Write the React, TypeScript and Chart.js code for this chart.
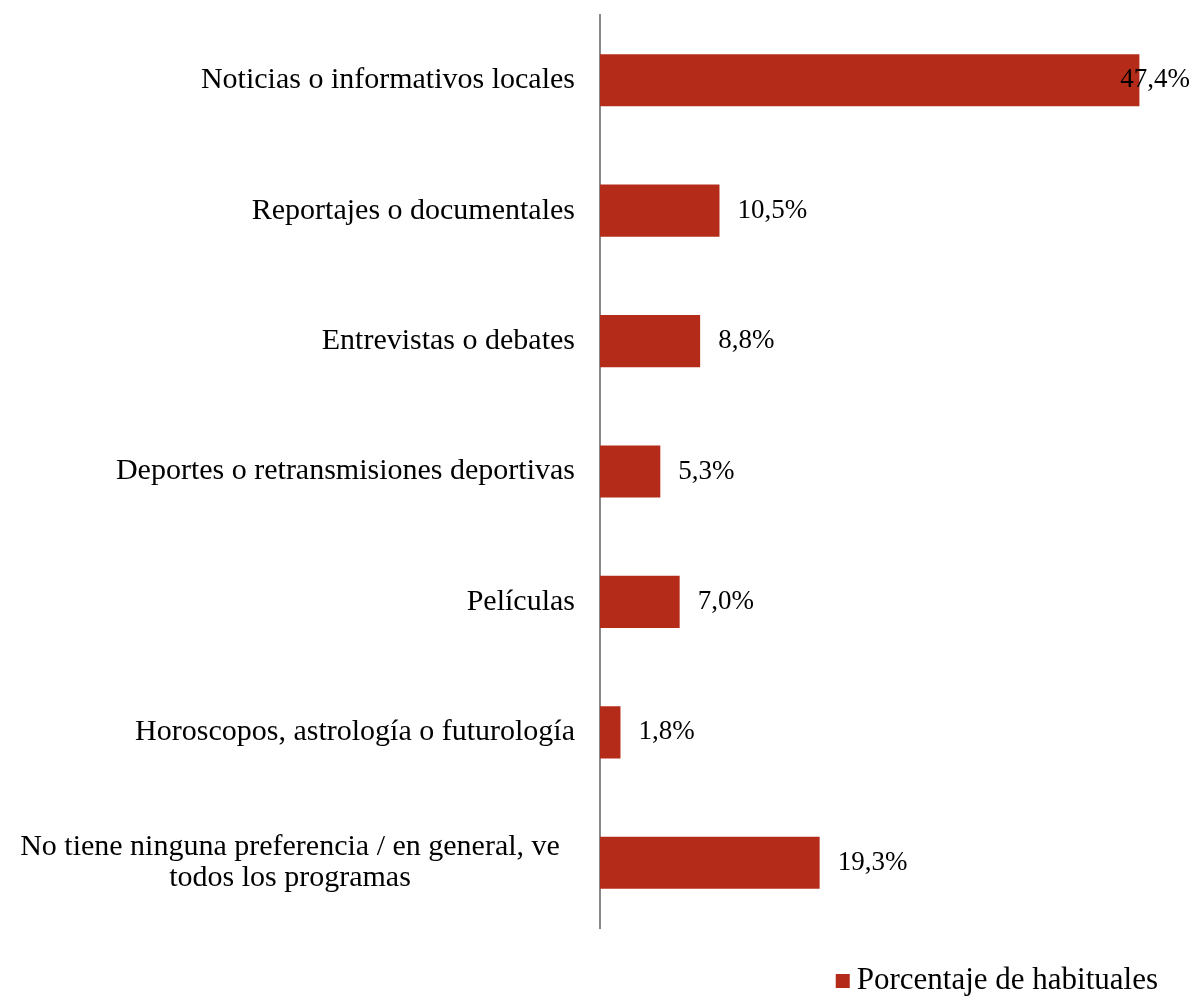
import React, { useEffect, useRef } from "react";
import { Chart, registerables } from "chart.js";

Chart.register(...registerables);

const categories: (string | string[])[] = [
  "Noticias o informativos locales",
  "Reportajes o documentales",
  "Entrevistas o debates",
  "Deportes o retransmisiones deportivas",
  "Películas",
  "Horoscopos, astrología o futurología",
  ["No tiene ninguna preferencia / en general, ve", "todos los programas"],
];
const values = [47.4, 10.5, 8.8, 5.3, 7.0, 1.8, 19.3];
const seriesName = "Porcentaje de habituales";
const xMax = 50;

const BAR_COLOR = "#B42C19";
const FONT_FAMILY = '"Liberation Serif", serif';
const CAT_FONT_SIZE = 30;
const VALUE_FONT_SIZE = 27;
const LEGEND_FONT_SIZE = 31;

const fmt = (v: number) => v.toFixed(1).replace(".", ",") + "%";

const labelsPlugin = {
  id: "customLabels",
  afterDraw(chart: any) {
    const ctx = chart.ctx as CanvasRenderingContext2D;
    const area = chart.chartArea;
    const yScale = chart.scales.y;
    ctx.save();
    ctx.fillStyle = "#000";
    ctx.textBaseline = "middle";
    // category labels
    ctx.font = `${CAT_FONT_SIZE}px ${FONT_FAMILY}`;
    categories.forEach((cat, i) => {
      const y = yScale.getPixelForValue(i);
      if (Array.isArray(cat)) {
        ctx.textAlign = "center";
        const cx = area.left - 310;
        const lh = 31;
        const start = y - ((cat.length - 1) * lh) / 2;
        cat.forEach((line, j) => ctx.fillText(line, cx, start + j * lh));
      } else {
        ctx.textAlign = "right";
        ctx.fillText(cat, area.left - 25, y);
      }
    });
    // value labels
    ctx.font = `${VALUE_FONT_SIZE}px ${FONT_FAMILY}`;
    const meta = chart.getDatasetMeta(0);
    ctx.textAlign = "left";
    meta.data.forEach((bar: any, i: number) => {
      const txt = fmt(values[i]);
      const w = ctx.measureText(txt).width;
      let x = bar.x + 18;
      if (x + w > chart.width - 6) x = chart.width - 6 - w;
      ctx.fillText(txt, x, bar.y);
    });
    // legend
    ctx.font = `${LEGEND_FONT_SIZE}px ${FONT_FAMILY}`;
    const tw = ctx.measureText(seriesName).width;
    const textRight = chart.width - 38;
    const tx = textRight - tw;
    const ly = chart.height - 15;
    ctx.fillStyle = BAR_COLOR;
    ctx.fillRect(tx - 21, ly - 7, 14, 14);
    ctx.fillStyle = "#000";
    ctx.fillText(seriesName, tx, ly);
    ctx.restore();
  },
};

export default function App() {
  const ref = useRef<HTMLCanvasElement | null>(null);
  useEffect(() => {
    if (!ref.current) return;
    const chart = new Chart(ref.current, {
      type: "bar",
      data: {
        labels: categories as any,
        datasets: [
          {
            label: seriesName,
            data: values,
            backgroundColor: BAR_COLOR,
            borderWidth: 0,
            barPercentage: 0.8,
            categoryPercentage: 0.5,
          },
        ],
      },
      options: {
        indexAxis: "y",
        animation: false,
        responsive: true,
        maintainAspectRatio: false,
        layout: { padding: { top: 15, left: 600, right: 27, bottom: 68 } },
        plugins: { legend: { display: false }, tooltip: { enabled: false } },
        scales: {
          x: { display: false, min: 0, max: xMax },
          y: {
            ticks: { display: false },
            grid: { display: false, drawTicks: false },
            border: { display: true, color: "#888888", width: 2 },
          },
        },
      },
      plugins: [labelsPlugin],
    });
    return () => chart.destroy();
  }, []);
  return (
    <div style={{ position: "fixed", left: 0, top: 0, width: 1196, height: 996, background: "#fff" }}>
      <canvas ref={ref} />
    </div>
  );
}
